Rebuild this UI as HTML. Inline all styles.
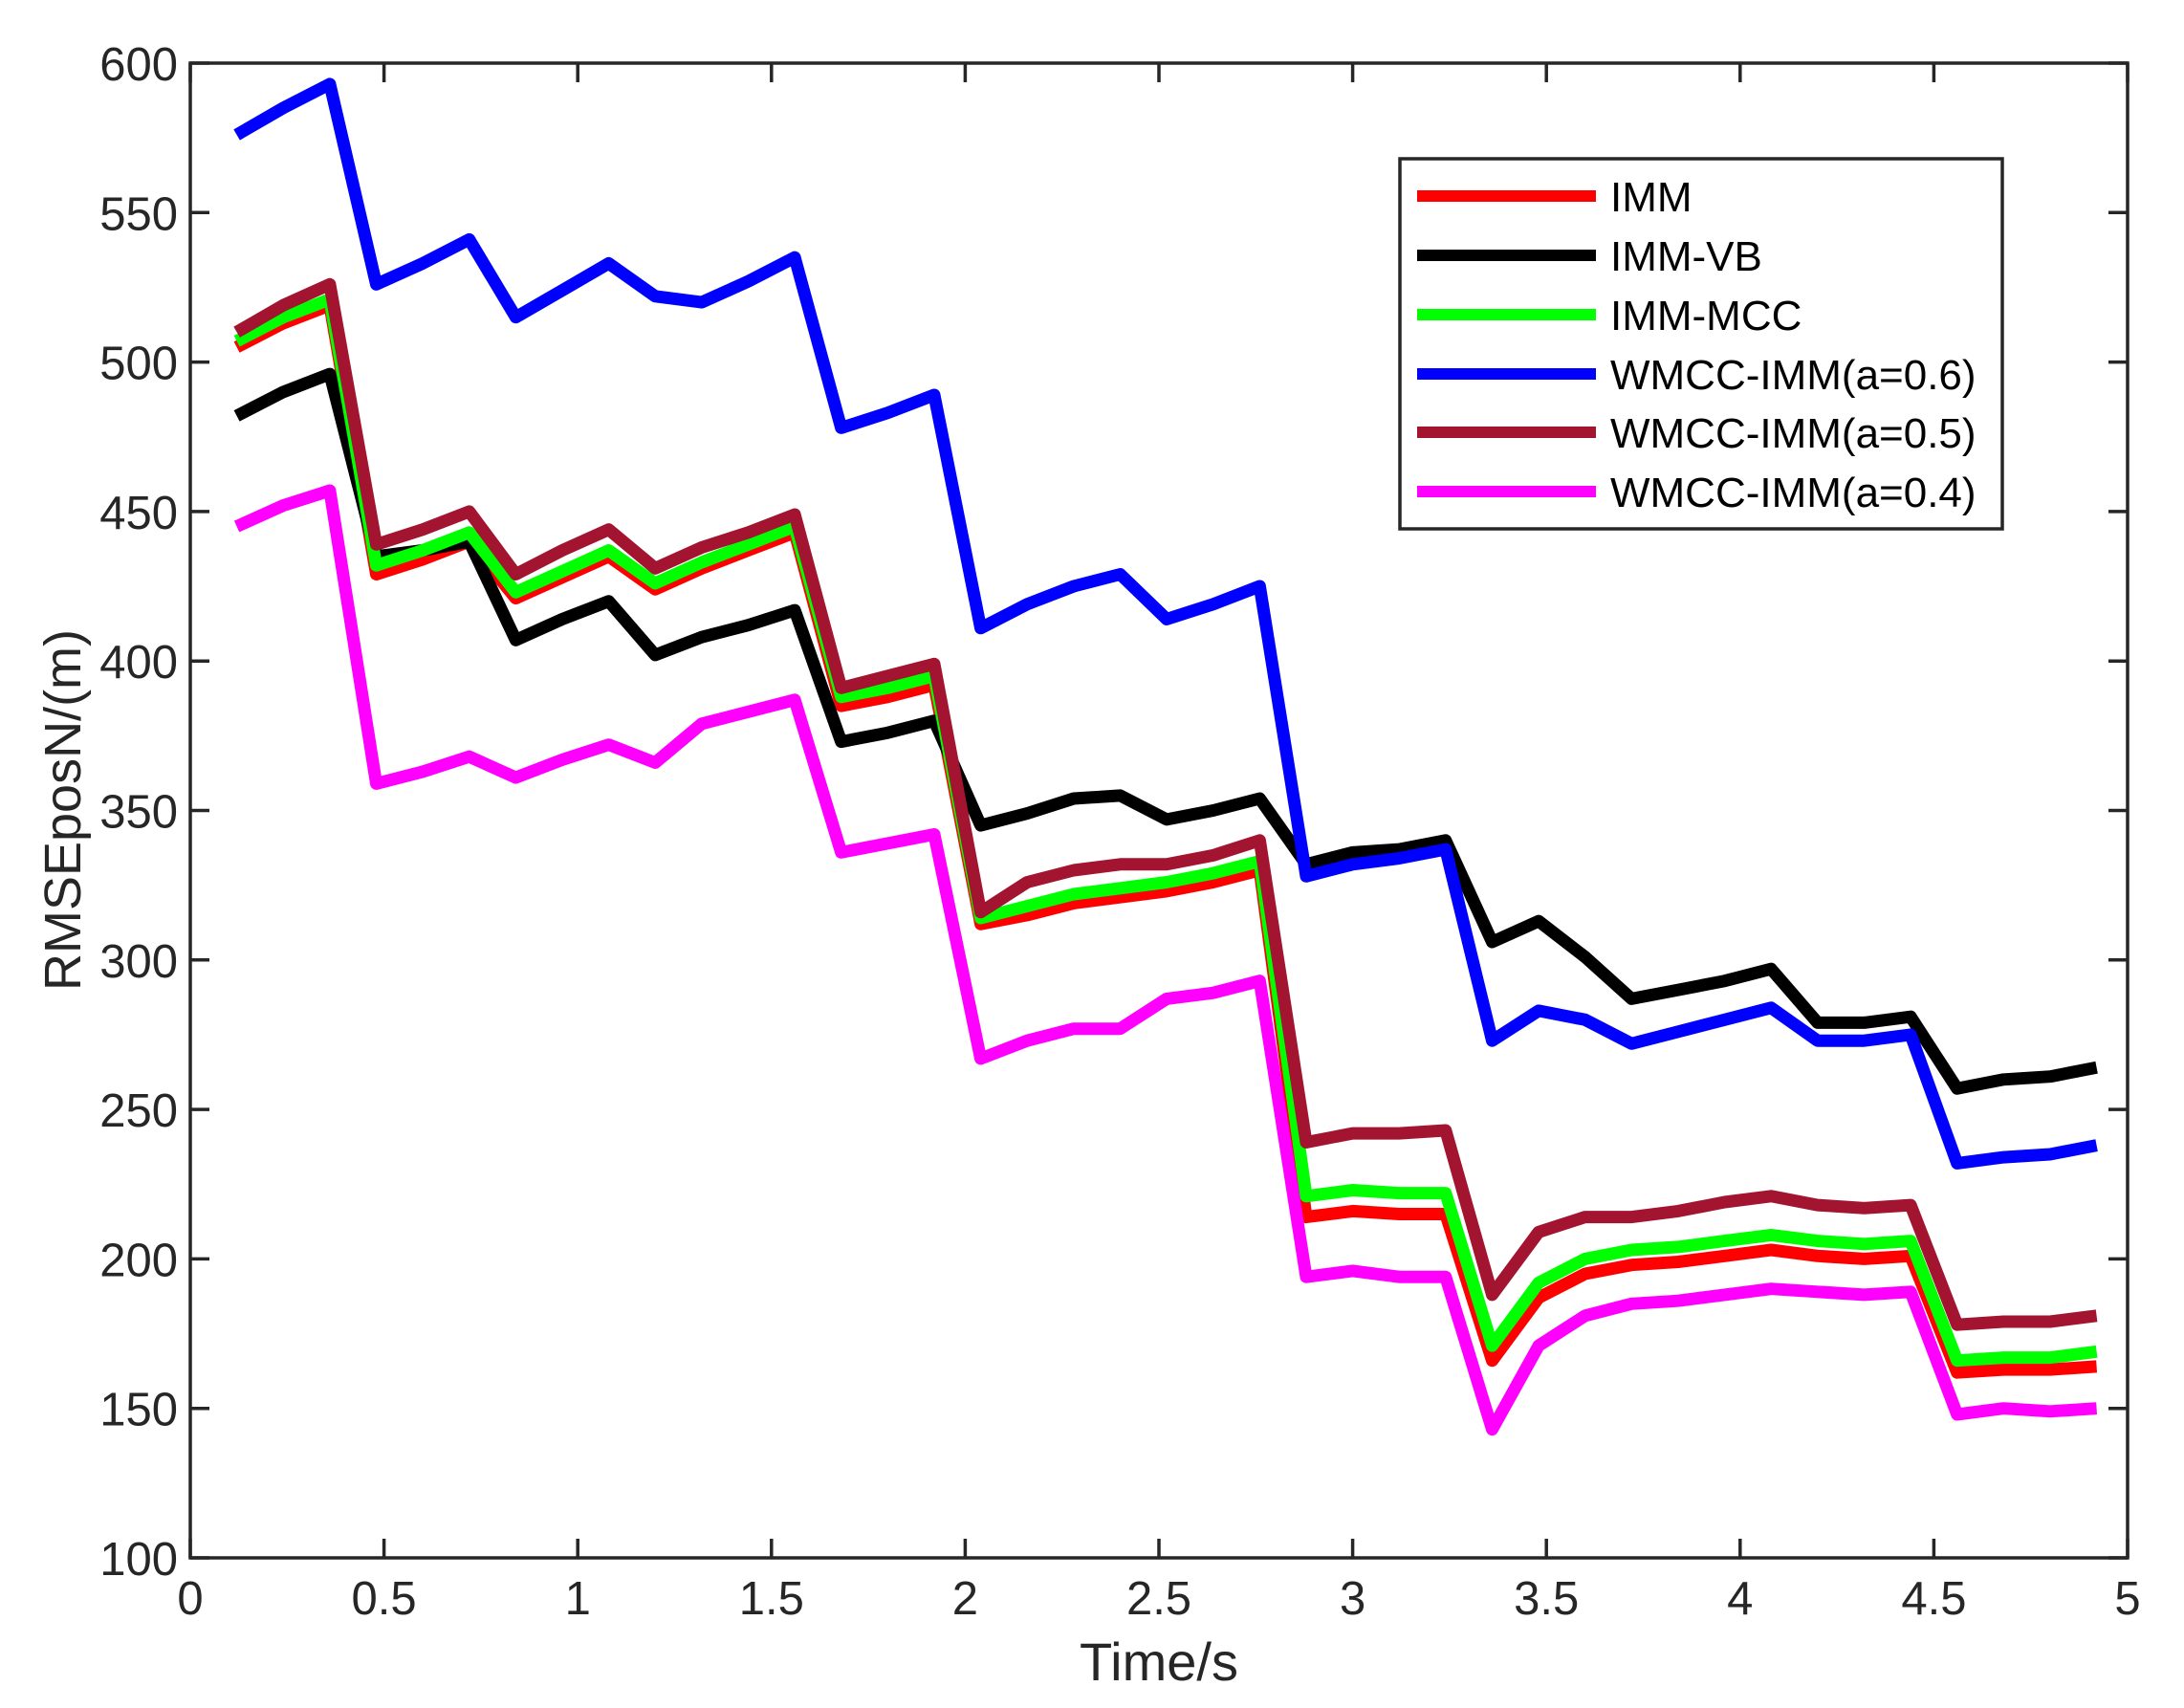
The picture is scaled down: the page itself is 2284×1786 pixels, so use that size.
<!DOCTYPE html>
<html><head><meta charset="utf-8"><style>html,body{margin:0;padding:0;background:#fff}svg{display:block}</style></head>
<body>
<svg id="svg" xmlns="http://www.w3.org/2000/svg" width="2284" height="1786" viewBox="0 0 2284 1786" font-family="Liberation Sans, Arial, sans-serif">
<rect width="2284" height="1786" fill="#fff"/>
<g id="series" fill="none" stroke-width="13" stroke-linejoin="round" stroke-linecap="butt"></g>
<g id="ticks" stroke="#262626" stroke-width="3.5" fill="none">
<rect x="199" y="66" width="2026" height="1563"/>
</g>
<g id="labels" fill="#262626" font-size="49"></g>
<text x="1212" y="1757" font-size="56" fill="#262626" text-anchor="middle">Time/s</text>
<text transform="translate(84,847) rotate(-90)" font-size="54" fill="#262626" text-anchor="middle">RMSEposN/(m)</text>
<g>
<rect x="1464" y="166" width="630" height="387" fill="#fff" stroke="#262626" stroke-width="3.5"/>
<g stroke-width="12">
<line x1="1482" y1="205" x2="1669" y2="205" stroke="#ff0000"/>
<line x1="1482" y1="267" x2="1669" y2="267" stroke="#000000"/>
<line x1="1482" y1="329" x2="1669" y2="329" stroke="#00ff00"/>
<line x1="1482" y1="391" x2="1669" y2="391" stroke="#0000ff"/>
<line x1="1482" y1="452" x2="1669" y2="452" stroke="#a2142f"/>
<line x1="1482" y1="514" x2="1669" y2="514" stroke="#ff00ff"/>
</g>
<g font-size="44" fill="#000">
<text x="1684" y="221">IMM</text>
<text x="1684" y="283">IMM-VB</text>
<text x="1684" y="345">IMM-MCC</text>
<text x="1684" y="407">WMCC-IMM(a=0.6)</text>
<text x="1684" y="468">WMCC-IMM(a=0.5)</text>
<text x="1684" y="530">WMCC-IMM(a=0.4)</text>
</g>
</g>
<script>
const X=t=>199+t*405.2, Y=v=>66+(600-v)*3.126;
const data=[
["#ff0000",[505,513,519,429,434,440,421,428,435,424,431,437,443,385,388,392,312,315,319,321,323,326,330,214,216,215,215,166,187,195,198,199,201,203,201,200,201,162,163,163,164]],
["#000000",[482,490,496,435,437,440,407,414,420,402,408,412,417,373,376,380,345,349,354,355,347,350,354,332,336,337,340,306,313,301,287,290,293,297,279,279,281,257,260,261,264]],
["#00ff00",[507,515,521,432,437,443,423,430,437,426,433,439,445,388,391,395,314,318,322,324,326,329,333,221,223,222,222,171,192,200,203,204,206,208,206,205,206,166,167,167,169]],
["#0000ff",[576,585,593,526,533,541,515,524,533,522,520,527,535,478,483,489,411,419,425,429,414,419,425,328,332,334,337,273,283,280,272,276,280,284,273,273,275,232,234,235,238]],
["#a2142f",[510,519,526,439,444,450,429,437,444,431,438,443,449,391,395,399,316,326,330,332,332,335,340,239,242,242,243,188,209,214,214,216,219,221,218,217,218,178,179,179,181]],
["#ff00ff",[445,452,457,359,363,368,361,367,372,366,379,383,387,336,339,342,267,273,277,277,287,289,293,194,196,194,194,143,171,181,185,186,188,190,189,188,189,148,150,149,150]]];
const NS="http://www.w3.org/2000/svg";
function el(parent,name,attrs,text){const e=document.createElementNS(NS,name);for(const k in attrs)e.setAttribute(k,attrs[k]);if(text!==undefined)e.textContent=text;parent.appendChild(e);return e;}
const g=document.getElementById("series");
data.forEach(([c,v])=>{el(g,"polyline",{points:v.map((y,i)=>X(0.12*(i+1)).toFixed(1)+","+Y(y).toFixed(1)).join(" "),stroke:c});});
const tk=document.getElementById("ticks"), lb=document.getElementById("labels");
for(let i=0;i<=10;i++){const x=X(i*0.5);
el(tk,"line",{x1:x,y1:1629,x2:x,y2:1609});el(tk,"line",{x1:x,y1:66,x2:x,y2:86});
el(lb,"text",{x:x,y:1688,"text-anchor":"middle"},i===0?"0":(i%2?(i*0.5).toFixed(1):String(i/2)));}
for(let v=100;v<=600;v+=50){const y=Y(v);
el(tk,"line",{x1:199,y1:y,x2:219,y2:y});el(tk,"line",{x1:2225,y1:y,x2:2205,y2:y});
el(lb,"text",{x:186,y:y+18,"text-anchor":"end"},String(v));}
</script>
</svg>
</body></html>
